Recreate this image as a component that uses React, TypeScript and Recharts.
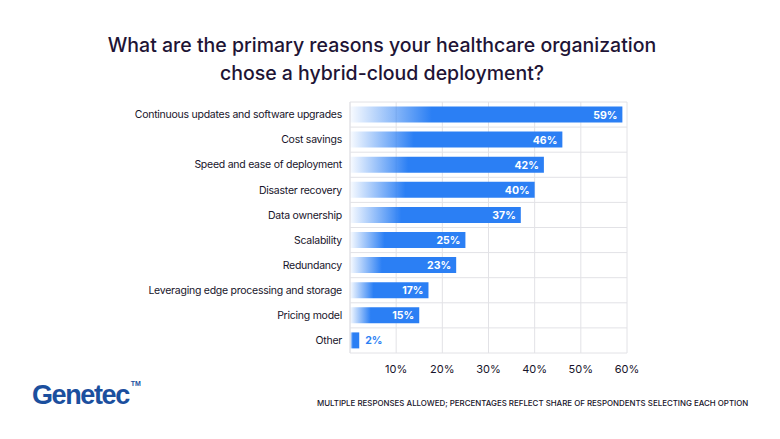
import { BarChart, Bar, XAxis, YAxis, CartesianGrid, ReferenceLine, LabelList } from 'recharts';

const reasons = [
    'Continuous updates and software upgrades',
    'Cost savings',
    'Speed and ease of deployment',
    'Disaster recovery',
    'Data ownership',
    'Scalability',
    'Redundancy',
    'Leveraging edge processing and storage ',
    'Pricing model',
    'Other',
];
const shares = [59, 46, 42, 40, 37, 25, 23, 17, 15, 2];
const pctTicks = [10, 20, 30, 40, 50, 60];

const data = reasons.map((reason, i) => ({ reason, share: shares[i] }));

const BLUE = '#2b7ff4';
const INK = '#17142a';
const GRID = '#e2e2e6';
const FONT = 'Inter, "Noto Sans", sans-serif';

// value label: white inside the bar, blue next to it when the bar is too short
const ShareLabel = (props: any) => {
    const { x, y, width, height, value } = props;
    const inside = width > 30;
    return (
        <text
            x={inside ? x + width - 5 : x + width + 6}
            y={y + height / 2}
            dy={4}
            textAnchor={inside ? 'end' : 'start'}
            fill={inside ? '#ffffff' : BLUE}
            fontSize={10.5}
            fontWeight={700}
            fontFamily={FONT}
        >
            {value}%
        </text>
    );
};

const App = () => {
    return (
        <div style={{ position: 'fixed', left: 0, top: 0, width: 780, height: 439, background: '#fff', fontFamily: FONT }}>
            <div
                style={{
                    position: 'absolute',
                    top: 31,
                    left: -8,
                    width: 780,
                    textAlign: 'center',
                    fontSize: 19.5,
                    fontWeight: 500,
                    lineHeight: '28px',
                    color: '#1e1435',
                }}
            >
                What are the primary reasons your healthcare organization
                <br />
                chose a hybrid-cloud deployment?
            </div>

            <BarChart
                width={780}
                height={439}
                data={data}
                layout="vertical"
                margin={{ top: 102, right: 153, bottom: 56, left: 0 }}
                barCategoryGap={4.5}
            >
                <defs>
                    <linearGradient id="barFade" x1="0" y1="0" x2="1" y2="0">
                        <stop offset="0" stopColor={BLUE} stopOpacity={0.03} />
                        <stop offset="0.3" stopColor={BLUE} stopOpacity={1} />
                        <stop offset="1" stopColor={BLUE} stopOpacity={1} />
                    </linearGradient>
                </defs>
                <CartesianGrid
                    stroke={GRID}
                    horizontalCoordinatesGenerator={({ offset }: any) =>
                        reasons.map((_, i) => offset.top + (i * offset.height) / reasons.length).concat(offset.top + offset.height)
                    }
                />
                <ReferenceLine x={0} stroke={GRID} />
                <XAxis
                    type="number"
                    domain={[0, 60]}
                    ticks={pctTicks}
                    tickFormatter={(v) => `${v}%`}
                    axisLine={false}
                    tickLine={false}
                    tickSize={0}
                    tickMargin={12}
                    height={30}
                    tick={{ fill: INK, fontSize: 11, fontFamily: FONT }}
                />
                <YAxis
                    type="category"
                    dataKey="reason"
                    width={350}
                    axisLine={false}
                    tickLine={false}
                    tickSize={0}
                    tickMargin={8}
                    interval={0}
                    tick={{ fill: INK, fontSize: 10.5, fontFamily: FONT, letterSpacing: -0.25 }}
                />
                <Bar dataKey="share" fill="url(#barFade)" isAnimationActive={false}>
                    <LabelList dataKey="share" content={ShareLabel} />
                </Bar>
            </BarChart>

            <div
                style={{
                    position: 'absolute',
                    left: 32,
                    top: 380,
                    fontFamily: '"Liberation Sans", Arial, sans-serif',
                    fontSize: 27,
                    fontWeight: 700,
                    letterSpacing: -1.4,
                    color: '#1b4f9e',
                }}
            >
                Genetec
                <span style={{ fontSize: 7, letterSpacing: 0, verticalAlign: 'top', marginLeft: 2 }}>TM</span>
            </div>

            <div
                style={{
                    position: 'absolute',
                    left: 317,
                    top: 398,
                    fontSize: 7.9,
                    fontWeight: 500,
                    color: INK,
                    whiteSpace: 'nowrap',
                }}
            >
                MULTIPLE RESPONSES ALLOWED; PERCENTAGES REFLECT SHARE OF RESPONDENTS SELECTING EACH OPTION
            </div>
        </div>
    );
};

export default App;
